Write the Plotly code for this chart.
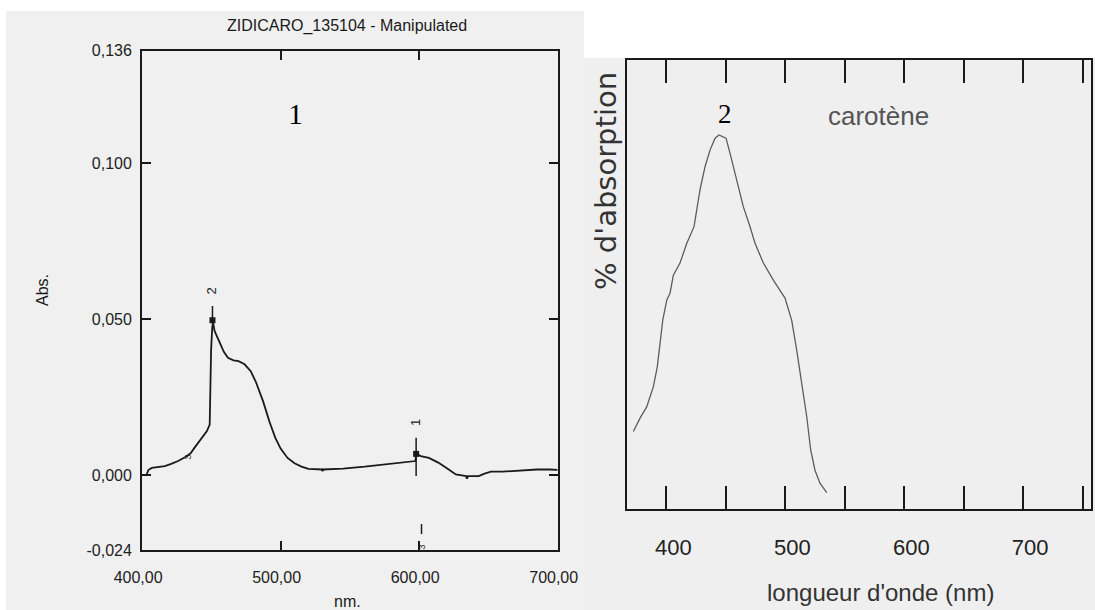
import plotly.graph_objects as go

W, H = 1095, 610

# --- Spectrum 1: measured absorbance (nm, Abs.) ---
abs_nm = [403.3, 404.5, 407, 412, 416.4, 421, 426, 431.6, 435, 437.9, 442, 446.8,
          448.8, 449.3, 449.8, 450.6, 451.2, 452.3, 456, 459, 462, 466, 469.6, 474,
          478.4, 482, 487.3, 492, 496.1, 500, 505, 510, 515.1, 520, 530.3, 545,
          560.7, 573.3, 585, 597.3, 597.8, 601.2, 607, 613.8, 620, 626.5, 634, 643,
          646.7, 651.7, 660, 672, 685, 694, 700]
abs_val = [0.0002, 0.0016, 0.0023, 0.0027, 0.0029, 0.0036, 0.0045, 0.0059, 0.0070,
           0.0088, 0.0112, 0.0141, 0.0162, 0.0301, 0.0400, 0.0472, 0.0490, 0.0462,
           0.0425, 0.0395, 0.0376, 0.0368, 0.0365, 0.0355, 0.0333, 0.0300, 0.0237,
           0.0170, 0.0120, 0.0085, 0.0055, 0.0038, 0.0027, 0.0020, 0.0018, 0.0021,
           0.0027, 0.0034, 0.0040, 0.0045, 0.0068, 0.0061, 0.0055, 0.0040, 0.0022,
           0.0002, -0.0003, -0.0003, 0.0004, 0.0011, 0.0011, 0.0015, 0.0018, 0.0018,
           0.0017]

# picked peaks
peak_nm = [597.8, 450.8]
peak_abs = [0.0068, 0.0496]
peak_lbl = ["1", "2"]
peak_lbl_abs = [0.0167, 0.0590]

# marker stems (x, low, high)
stem_nm = [597.8, 450.8, 601.7]
stem_lo = [-0.0003, 0.0496, -0.0189]
stem_hi = [0.0120, 0.0542, -0.0157]

# valley markers
valley_nm = [432.8, 602.3]
valley_abs = [0.0058, -0.0231]
valley_dot_nm = [530.3, 634.5]
valley_dot_abs = [0.0016, -0.0008]

abs_ticks = [-0.024, 0.0, 0.05, 0.1, 0.136]
abs_ticktext = ["-0,024", "0,000", "0,050", "0,100", "0,136"]
nm_ticks = [400, 500, 600, 700]
nm_ticktext = ["400,00", "500,00", "600,00", "700,00"]

# --- Spectrum 2: carotene reference (% absorption) ---
car_nm = [372.2, 377.8, 383.4, 389.0, 392.3, 394.6, 396.9, 400.3, 403.0, 405.8,
          411.4, 417.1, 423.2, 428.2, 432.5, 436.7, 440.9, 444.2, 450.1, 453.5,
          457.7, 464.7, 470.3, 474.5, 481.5, 489.9, 499.7, 501.1, 505.3, 509.5,
          513.8, 518.0, 521.3, 524.9, 529.1, 534.8]
car_val = [17.3, 20.3, 22.8, 27.3, 31.7, 36.9, 42.1, 46.6, 48.1, 52.1,
           54.8, 59.2, 62.9, 71.1, 76.3, 80.0, 82.6, 83.3, 82.6, 79.2,
           74.8, 67.3, 62.9, 59.2, 54.8, 51.0, 47.0, 45.8, 42.1, 35.5,
           28.0, 20.6, 13.2, 8.7, 5.8, 3.7]

car_ticks = [400, 450, 500, 550, 600, 650, 700, 750]
car_ticktext = ["400", "", "500", "", "600", "", "700", ""]


def px(x):
    return x / W


def py(y):
    return 1 - y / H


SANS = "Liberation Sans, Arial, sans-serif"
SERIF = "Liberation Serif, Times New Roman, serif"
INK = "#1a1a1a"

fig = go.Figure()

fig.add_trace(go.Scatter(x=abs_nm, y=abs_val, mode="lines",
                         line=dict(color=INK, width=1.8),
                         xaxis="x", yaxis="y", hoverinfo="skip"))

sx, sy = [], []
for x, lo, hi in zip(stem_nm, stem_lo, stem_hi):
    sx += [x, x, None]
    sy += [lo, hi, None]
fig.add_trace(go.Scatter(x=sx, y=sy, mode="lines",
                         line=dict(color=INK, width=1.5),
                         xaxis="x", yaxis="y", hoverinfo="skip"))

fig.add_trace(go.Scatter(x=peak_nm, y=peak_abs, mode="markers",
                         marker=dict(symbol="square", size=6, color=INK),
                         xaxis="x", yaxis="y", hoverinfo="skip"))
fig.add_trace(go.Scatter(x=valley_dot_nm, y=valley_dot_abs, mode="markers",
                         marker=dict(size=3, color=INK),
                         xaxis="x", yaxis="y", hoverinfo="skip"))

fig.add_trace(go.Scatter(x=car_nm, y=car_val, mode="lines",
                         line=dict(color="#5c5c5c", width=1.3),
                         xaxis="x2", yaxis="y2", hoverinfo="skip"))

annotations = []
for x, y, t in zip(peak_nm, peak_lbl_abs, peak_lbl):
    annotations.append(dict(x=x, y=y, xref="x", yref="y", text=t, showarrow=False,
                            textangle=-90, font=dict(family=SANS, size=13, color=INK)))
for x, y in zip(valley_nm, valley_abs):
    annotations.append(dict(x=x, y=y, xref="x", yref="y", text="3", showarrow=False,
                            textangle=-90, font=dict(family=SANS, size=9, color=INK)))


def note(text, x, y, size, family=SANS, color=INK, angle=0):
    annotations.append(dict(x=px(x), y=py(y), xref="paper", yref="paper", text=text,
                            showarrow=False, textangle=angle,
                            xanchor="center", yanchor="middle",
                            font=dict(family=family, size=size, color=color)))


note("ZIDICARO_135104 - Manipulated", 347, 26, 16)
note("Abs.", 42, 290, 16, angle=-90)
note("nm.", 347, 601, 16)
note("1", 295, 113, 30, family=SERIF, color="#000")
note("2", 724.5, 114, 27, family=SERIF, color="#000")
note("carotène", 878.6, 116, 26, color="#555")
note("% d'absorption", 606, 181, 29, family="DejaVu Sans, sans-serif",
     color="#333", angle=-90)
note("longueur d'onde (nm)", 880, 592, 24, color="#333")

shapes = [
    dict(type="rect", xref="paper", yref="paper", x0=px(6), x1=px(584),
         y0=0, y1=py(11), fillcolor="#f0f0f0", line=dict(width=0), layer="below"),
    dict(type="rect", xref="paper", yref="paper", x0=px(584), x1=1,
         y0=0, y1=py(58), fillcolor="#efefef", line=dict(width=0), layer="below"),
]

common = dict(showgrid=False, zeroline=False, showline=True, linecolor=INK,
              linewidth=2, automargin=False)

fig.update_layout(
    template="none",
    width=W, height=H,
    margin=dict(l=0, r=0, t=0, b=0, pad=0, autoexpand=False),
    paper_bgcolor="white",
    plot_bgcolor="rgba(0,0,0,0)",
    showlegend=False,
    annotations=annotations,
    shapes=shapes,
    xaxis=dict(domain=[px(142.1), px(557.7)], range=[400, 700], anchor="y",
               mirror="ticks", ticks="inside", ticklen=9,
               tickwidth=1.5, tickcolor=INK, tickvals=nm_ticks,
               ticktext=nm_ticktext, ticklabelstandoff=12, ticklabelshift=-4,
               tickfont=dict(family=SANS, size=16, color="#222"), **common),
    yaxis=dict(domain=[py(550), py(50.7)], range=[-0.024, 0.136], anchor="x",
               mirror="ticks", ticks="inside", ticklen=9,
               tickwidth=1.5, tickcolor=INK, tickvals=abs_ticks,
               ticktext=abs_ticktext, ticklabelstandoff=5,
               tickfont=dict(family=SANS, size=16, color="#222"), **common),
    xaxis2=dict(domain=[px(627.2), px(1090.5)], range=[367.0, 756.6], anchor="y2",
                mirror="ticks", ticks="inside", ticklen=23,
                tickwidth=2, tickcolor=INK, tickvals=car_ticks,
                ticktext=car_ticktext, ticklabelstandoff=17, ticklabelshift=7,
                tickfont=dict(family=SANS, size=22, color="#222"), **common),
    yaxis2=dict(domain=[py(509.3), py(60)], range=[0, 100], anchor="x2",
                mirror=True, ticks="", showticklabels=False, **common),
)

fig.write_html("out.html")
